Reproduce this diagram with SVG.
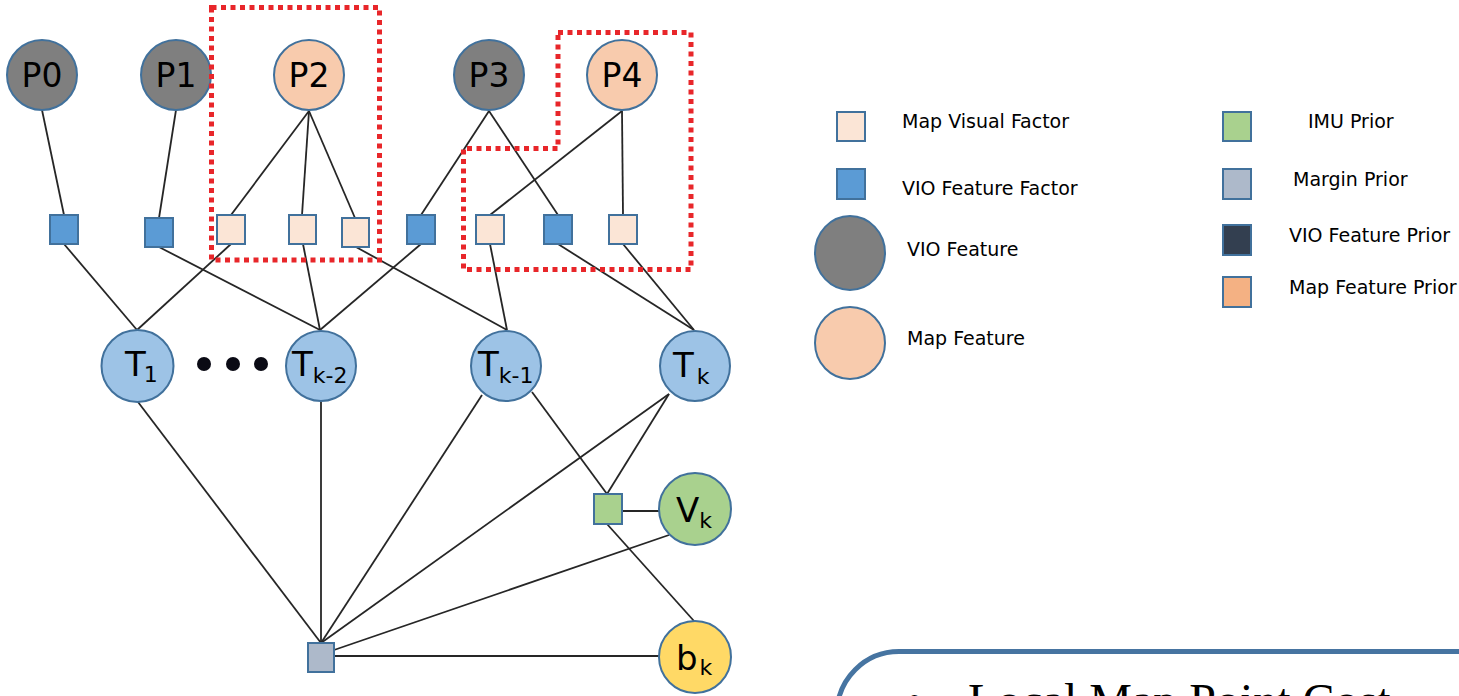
<svg xmlns="http://www.w3.org/2000/svg" width="1459" height="696" viewBox="0 0 1459 696">
<style>
.n{stroke:#41719c;stroke-width:2}
.vio{fill:#7f7f7f}
.map{fill:#f8cbad}
.mf{fill:#fbe5d6}
.vf{fill:#5b9bd5}
.t{fill:#9dc3e6}
.imu{fill:#a9d18e}
.mg{fill:#adb9ca}
.vp{fill:#333f50}
.mp{fill:#f4b183}
.b{fill:#ffd966}
.lbl{font-family:"DejaVu Sans",sans-serif;font-size:34px;fill:#000}
.pl{font-size:33px}
.sub{font-size:22px}
.leg{font-family:"DejaVu Sans",sans-serif;font-size:19px;fill:#000}
.red{fill:none;stroke:#e8262a;stroke-width:5;stroke-dasharray:5 4.5}
#connectors line{stroke:#262626;stroke-width:1.8}
</style>
<rect width="1459" height="696" fill="#fff"/>
<g id="connectors">
<line x1="42" y1="110" x2="64" y2="215"/>
<line x1="176" y1="110" x2="159" y2="218"/>
<line x1="309" y1="111" x2="231" y2="215"/>
<line x1="309" y1="111" x2="302" y2="215"/>
<line x1="309" y1="111" x2="355" y2="218"/>
<line x1="489" y1="111" x2="421" y2="215"/>
<line x1="489" y1="111" x2="558" y2="215"/>
<line x1="622" y1="111" x2="490" y2="215"/>
<line x1="622" y1="111" x2="623" y2="215"/>
<line x1="64" y1="244" x2="137" y2="330"/>
<line x1="231" y1="244" x2="137" y2="330"/>
<line x1="159" y1="247" x2="320" y2="330"/>
<line x1="303" y1="244" x2="320" y2="330"/>
<line x1="421" y1="244" x2="320" y2="330"/>
<line x1="356" y1="247" x2="507" y2="330"/>
<line x1="490" y1="244" x2="507" y2="330"/>
<line x1="558" y1="244" x2="694" y2="330"/>
<line x1="623" y1="244" x2="694" y2="330"/>
<line x1="138" y1="402" x2="321" y2="643"/>
<line x1="321" y1="402" x2="321" y2="643"/>
<line x1="482" y1="395" x2="321" y2="643"/>
<line x1="669" y1="394" x2="321" y2="643"/>
<line x1="669" y1="535" x2="334" y2="650"/>
<line x1="660" y1="656" x2="334" y2="656"/>
<line x1="532" y1="392" x2="607" y2="494"/>
<line x1="669" y1="394" x2="607" y2="494"/>
<line x1="622" y1="511" x2="660" y2="511"/>
<line x1="607" y1="524" x2="694" y2="621"/>
</g>
<g id="P0"><circle class="n vio" cx="42" cy="75" r="35"/><text class="lbl pl" x="42" y="87" text-anchor="middle">P0</text></g>
<g id="P1"><circle class="n vio" cx="176" cy="75" r="35"/><text class="lbl pl" x="176" y="87" text-anchor="middle">P1</text></g>
<g id="P2"><circle class="n map" cx="309" cy="75" r="35"/><text class="lbl pl" x="309" y="87" text-anchor="middle">P2</text></g>
<g id="P3"><circle class="n vio" cx="489" cy="75" r="35"/><text class="lbl pl" x="489" y="87" text-anchor="middle">P3</text></g>
<g id="P4"><circle class="n map" cx="622" cy="75" r="35"/><text class="lbl pl" x="622" y="87" text-anchor="middle">P4</text></g>
<g id="vf1"><rect class="n vf" x="50" y="215" width="28" height="29"/></g>
<g id="vf2"><rect class="n vf" x="145" y="218" width="28" height="29"/></g>
<g id="mf1"><rect class="n mf" x="217" y="215" width="28" height="29"/></g>
<g id="mf2"><rect class="n mf" x="289" y="215" width="27" height="29"/></g>
<g id="mf3"><rect class="n mf" x="342" y="218" width="27" height="29"/></g>
<g id="vf3"><rect class="n vf" x="407" y="215" width="28" height="29"/></g>
<g id="mf4"><rect class="n mf" x="476" y="215" width="28" height="29"/></g>
<g id="vf4"><rect class="n vf" x="544" y="215" width="28" height="29"/></g>
<g id="mf5"><rect class="n mf" x="609" y="215" width="28" height="29"/></g>
<g id="box1"><rect class="red" x="211.5" y="7.5" width="168" height="252.5"/></g>
<g id="box2"><polygon class="red" points="558,32.5 691,32.5 691,269.5 463.5,269.5 463.5,148.5 558,148.5"/></g>
<g id="T1"><circle class="n t" cx="137.5" cy="366" r="36"/><text class="lbl" x="125" y="376">T<tspan class="sub" dx="-2" dy="6">1</tspan></text></g>
<g id="dots" fill="#0a0a14"><circle cx="204" cy="364" r="7"/><circle cx="233" cy="364" r="7"/><circle cx="261" cy="364" r="7"/></g>
<g id="Tk-2"><circle class="n t" cx="321" cy="366" r="35"/><text class="lbl" x="292" y="376">T<tspan class="sub" dy="7">k-2</tspan></text></g>
<g id="Tk-1"><circle class="n t" cx="506" cy="366" r="35"/><text class="lbl" x="478" y="376">T<tspan class="sub" dy="7">k-1</tspan></text></g>
<g id="Tk"><circle class="n t" cx="695" cy="366" r="35"/><text class="lbl" x="673" y="377">T<tspan class="sub" dx="3" dy="7">k</tspan></text></g>
<g id="imu"><rect class="n imu" x="594" y="494" width="28" height="30"/></g>
<g id="Vk"><circle class="n imu" cx="695" cy="509" r="36"/><text class="lbl" x="676" y="522">V<tspan class="sub" dy="6">k</tspan></text></g>
<g id="bk"><circle class="n b" cx="695" cy="657" r="36"/><text class="lbl" x="676" y="670">b<tspan class="sub" dx="2" dy="5">k</tspan></text></g>
<g id="margin"><rect class="n mg" x="308" y="643" width="26" height="29"/></g>
<g id="legend">
<rect class="n mf" x="837" y="112" width="28" height="29"/><text class="leg" x="902" y="128">Map Visual Factor</text>
<rect class="n vf" x="837" y="169" width="28" height="30"/><text class="leg" x="902" y="195">VIO Feature Factor</text>
<ellipse class="n vio" cx="850" cy="253" rx="35" ry="37"/><text class="leg" x="907" y="256">VIO Feature</text>
<ellipse class="n map" cx="850" cy="343" rx="35" ry="36"/><text class="leg" x="907" y="345">Map Feature</text>
<rect class="n imu" x="1223" y="112" width="28" height="29"/><text class="leg" x="1308" y="128">IMU Prior</text>
<rect class="n mg" x="1223" y="169" width="28" height="30"/><text class="leg" x="1293" y="186">Margin Prior</text>
<rect class="n vp" x="1223" y="225" width="28" height="30"/><text class="leg" x="1289" y="242">VIO Feature Prior</text>
<rect class="n mp" x="1223" y="277" width="28" height="30"/><text class="leg" x="1289" y="294">Map Feature Prior</text>
</g>
<g id="costbox">
<rect x="837" y="651.5" width="700" height="200" rx="62" fill="#fff" stroke="#4674a1" stroke-width="5"/>
<text font-family="'Liberation Serif',serif" font-size="48" x="906" y="717">•<tspan x="968">Local Map Point Cost</tspan></text>
</g>
</svg>
